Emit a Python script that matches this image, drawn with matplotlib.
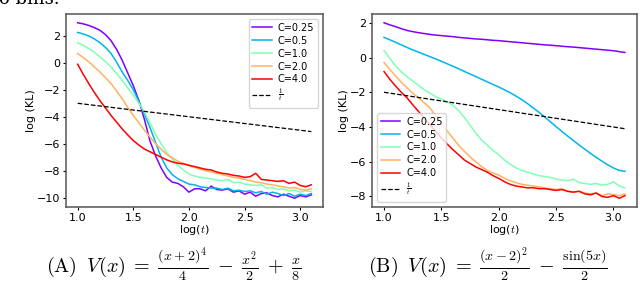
import matplotlib
matplotlib.use('Agg')
import matplotlib.pyplot as plt

# shared time grid, log(t)
log_t = [1.00, 1.05, 1.10, 1.15, 1.20, 1.25, 1.30, 1.35, 1.40, 1.45,
         1.50, 1.55, 1.60, 1.65, 1.70, 1.75, 1.80, 1.85, 1.90, 1.95,
         2.00, 2.05, 2.10, 2.15, 2.20, 2.25, 2.30, 2.35, 2.40, 2.45,
         2.50, 2.55, 2.60, 2.65, 2.70, 2.75, 2.80, 2.85, 2.90, 2.95,
         3.00, 3.05, 3.10]

labels = ['C=0.25', 'C=0.5', 'C=1.0', 'C=2.0', 'C=4.0']

# panel A: log(KL) per C
a_c025 = [2.98, 2.90, 2.78, 2.62, 2.42, 2.10, 1.65, 1.00, 0.20, -0.75,
          -1.70, -2.80, -4.20, -5.80, -6.90, -7.80, -8.50, -8.85, -8.95, -9.20,
          -9.60, -9.35, -9.35, -9.50, -9.15, -9.40, -9.45, -9.35, -9.60, -9.50,
          -9.75, -9.60, -9.90, -9.70, -9.65, -9.85, -9.95, -9.75, -9.90, -10.05,
          -9.85, -9.95, -9.80]
a_c05 = [2.26, 2.15, 2.00, 1.78, 1.50, 1.15, 0.70, 0.05, -0.67, -1.30,
         -2.00, -2.85, -3.80, -4.80, -5.90, -7.00, -7.80, -8.30, -8.60, -8.80,
         -9.00, -9.05, -9.20, -9.25, -9.30, -9.30, -9.40, -9.30, -9.50, -9.45,
         -9.55, -9.50, -9.65, -9.55, -9.75, -9.60, -9.70, -9.85, -9.70, -9.90,
         -9.75, -9.85, -9.70]
a_c1 = [1.50, 1.30, 1.07, 0.78, 0.45, 0.10, -0.30, -0.78, -1.30, -1.85,
        -2.40, -3.00, -3.65, -4.45, -5.30, -6.00, -6.65, -7.15, -7.60, -7.95,
        -8.25, -8.40, -8.50, -8.55, -8.60, -8.70, -8.75, -8.65, -8.90, -8.85,
        -9.00, -9.05, -9.10, -9.05, -9.30, -9.25, -9.40, -9.35, -9.50, -9.45,
        -9.60, -9.50, -9.55]
a_c2 = [0.70, 0.40, 0.07, -0.30, -0.67, -1.10, -1.54, -2.10, -2.66, -3.30,
        -3.90, -4.45, -5.00, -5.50, -6.00, -6.40, -6.80, -7.05, -7.30, -7.45,
        -7.65, -7.75, -7.90, -8.00, -8.10, -8.20, -8.30, -8.40, -8.50, -8.55,
        -8.65, -8.75, -8.85, -8.90, -9.00, -9.05, -9.15, -9.20, -9.30, -9.25,
        -9.40, -9.45, -9.35]
a_c4 = [-0.10, -0.85, -1.54, -2.20, -2.80, -3.35, -3.90, -4.40, -4.90, -5.35,
        -5.77, -6.10, -6.40, -6.60, -6.80, -7.00, -7.20, -7.35, -7.45, -7.50,
        -7.60, -7.70, -7.80, -7.90, -7.95, -8.10, -8.20, -8.25, -8.35, -8.40,
        -8.50, -8.45, -8.20, -8.65, -8.70, -8.75, -8.80, -8.75, -8.95, -8.85,
        -9.10, -9.20, -9.05]

# panel B: log(KL) per C
b_c025 = [2.00, 1.88, 1.78, 1.66, 1.56, 1.49, 1.43, 1.38, 1.33, 1.29,
          1.26, 1.23, 1.20, 1.16, 1.13, 1.10, 1.07, 1.05, 1.02, 0.99,
          0.97, 0.94, 0.91, 0.88, 0.85, 0.82, 0.79, 0.76, 0.73, 0.71,
          0.68, 0.65, 0.62, 0.60, 0.57, 0.54, 0.51, 0.48, 0.45, 0.42,
          0.39, 0.34, 0.29]
b_c05 = [1.16, 1.02, 0.88, 0.73, 0.58, 0.44, 0.31, 0.18, 0.05, -0.08,
         -0.22, -0.36, -0.50, -0.65, -0.80, -0.95, -1.10, -1.25, -1.40, -1.55,
         -1.70, -1.86, -2.03, -2.22, -2.42, -2.65, -2.90, -3.15, -3.42, -3.70,
         -3.98, -4.25, -4.52, -4.78, -5.03, -5.28, -5.52, -5.75, -5.97, -6.18,
         -6.36, -6.50, -6.55]
b_c1 = [0.40, -0.05, -0.48, -0.82, -1.10, -1.35, -1.60, -1.85, -2.05, -2.25,
        -2.40, -2.55, -2.75, -3.05, -3.45, -3.90, -4.35, -4.75, -5.05, -5.35,
        -5.60, -5.90, -6.15, -6.35, -6.50, -6.60, -6.70, -6.80, -6.85, -6.90,
        -7.00, -7.05, -7.10, -7.00, -7.20, -7.25, -7.30, -7.25, -7.35, -7.30,
        -7.15, -7.40, -7.50]
b_c2 = [-0.29, -0.68, -1.06, -1.42, -1.74, -2.05, -2.32, -2.60, -2.90, -3.35,
        -3.80, -4.22, -4.64, -5.05, -5.40, -5.72, -6.00, -6.28, -6.50, -6.65,
        -6.77, -6.95, -7.10, -7.20, -7.30, -7.35, -7.40, -7.45, -7.50, -7.55,
        -7.60, -7.55, -7.70, -7.75, -7.70, -7.80, -7.85, -7.80, -7.95, -7.85,
        -7.90, -7.95, -7.85]
b_c4 = [-0.81, -1.25, -1.64, -2.00, -2.32, -2.72, -3.10, -3.50, -3.87, -4.25,
        -4.64, -4.98, -5.30, -5.60, -5.90, -6.10, -6.30, -6.45, -6.60, -6.80,
        -6.96, -7.15, -7.30, -7.40, -7.45, -7.50, -7.50, -7.55, -7.55, -7.60,
        -7.65, -7.60, -7.70, -7.75, -7.70, -7.85, -7.90, -7.80, -8.00, -8.05,
        -7.95, -8.10, -7.95]

# 1/t reference line endpoints
ref_x = [1.0, 3.1]
a_ref = [-3.0, -5.1]
b_ref = [-2.0, -4.1]

captions = [r'$\mathrm{(A)}\;\; V(x)\; =\; \frac{(x+2)^4}{4}\; -\; \frac{x^2}{2}\; +\; \frac{x}{8}$',
            r'$\mathrm{(B)}\;\; V(x)\; =\; \frac{(x-2)^2}{2}\; -\; \frac{\sin(5x)}{2}$']

plt.rcParams['mathtext.fontset'] = 'cm'


def draw_panel(ax, curves, ref, loc):
    colors = plt.cm.rainbow([0.0, 0.25, 0.5, 0.75, 1.0])
    for vals, col, lab in zip(curves, colors, labels):
        ax.plot(log_t, vals, color=col, lw=1.1, label=lab)
    ax.plot(ref_x, ref, '--', color='black', lw=0.9, label=r'$\frac{1}{t}$')
    ax.set_xlabel(r'log($t$)', fontsize=8, labelpad=0)
    ax.set_ylabel('log (KL)', fontsize=8, labelpad=1)
    ax.tick_params(labelsize=8, length=2.5, pad=1.5)
    for s in ax.spines.values():
        s.set_color('#555555')
        s.set_linewidth(1.1)
    ax.legend(loc=loc, fontsize=7, handlelength=2.0, labelspacing=0.3,
              borderpad=0.4, handletextpad=0.6)


fig = plt.figure(figsize=(6.4, 2.87), dpi=100)
ax1 = fig.add_axes([66 / 640, 80 / 287, 257 / 640, 193 / 287])
ax2 = fig.add_axes([372 / 640, 80 / 287, 265 / 640, 193 / 287])
draw_panel(ax1, [a_c025, a_c05, a_c1, a_c2, a_c4], a_ref, 'upper right')
draw_panel(ax2, [b_c025, b_c05, b_c1, b_c2, b_c4], b_ref, 'lower left')
ax1.set_yticks([2, 0, -2, -4, -6, -8, -10])
ax2.set_yticks([2, 0, -2, -4, -6, -8])

fig.text(-0.002, 283 / 287, 'o bins.', family='serif', fontsize=13,
         va='baseline')
fig.text(174 / 640, 3 / 287, captions[0], fontsize=14.5, ha='center',
         va='bottom')
fig.text(488 / 640, 3 / 287, captions[1], fontsize=14.5, ha='center',
         va='bottom')

fig.savefig('out.png', dpi=100)
